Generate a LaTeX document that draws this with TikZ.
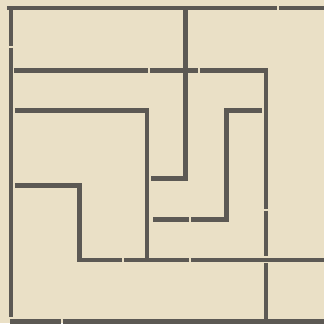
\documentclass[tikz,border=0pt]{standalone}
\usepackage{xcolor}
\definecolor{paper}{HTML}{EAE0C6}
\definecolor{ink}{HTML}{5C5954}
\tikzset{
  wall/.style={draw=ink, line width=1.15mm, line join=miter}
}
\begin{document}
\begin{tikzpicture}[x=0.025cm, y=-0.025cm]
  \fill[paper] (0,0) rectangle (326,325);
  % outer frame
  \draw[wall] (7,8) -- (279,8);
  \draw[wall] (281,8) -- (326,8);
  \draw[wall] (11,10) -- (11,46);
  \draw[wall] (11,48) -- (11,319);
  \draw[wall] (10,324) -- (61,324);
  \draw[wall] (63,324) -- (326,324);
  % upper walls
  \draw[wall] (14,71) -- (149,71);
  \draw[wall] (151,71) -- (199,71);
  \draw[wall] (201,71) -- (268,71) -- (268,210);
  \draw[wall] (268,212) -- (268,258);
  \draw[wall] (268,265) -- (268,321);
  \draw[wall] (187,10) -- (187,68);
  \draw[wall] (187,73) -- (187,180) -- (152,180);
  % inner walls
  \draw[wall] (15,111) -- (148,111) -- (148,262);
  \draw[wall] (264,111) -- (228,111) -- (228,221) -- (192,221);
  \draw[wall] (190,221) -- (154,221);
  % lower walls
  \draw[wall] (15,187) -- (80,187) -- (80,262) -- (123,262);
  \draw[wall] (125,262) -- (190,262);
  \draw[wall] (192,262) -- (326,262);
\end{tikzpicture}
\end{document}
